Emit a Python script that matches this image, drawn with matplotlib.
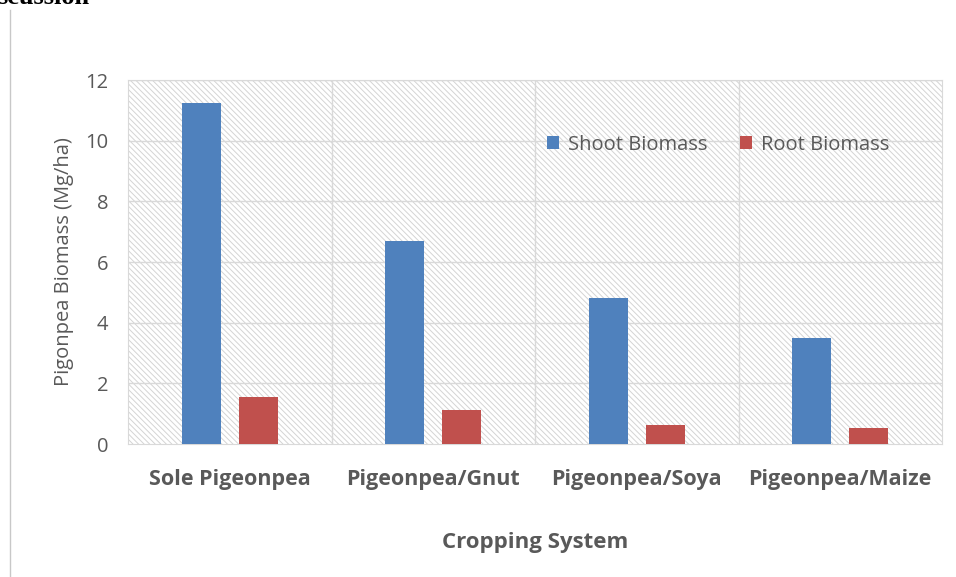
import numpy as np
import matplotlib.pyplot as plt
from matplotlib.patches import Rectangle

plt.rcParams['font.family'] = ['Open Sans', 'DejaVu Sans']
plt.rcParams['hatch.linewidth'] = 0.7
plt.rcParams['hatch.color'] = '#d4d4d4'

# datos
sistemas = ['Sole Pigeonpea', 'Pigeonpea/Gnut', 'Pigeonpea/Soya', 'Pigeonpea/Maize']
shoot = [11.25, 6.7, 4.8, 3.48]
root = [1.55, 1.12, 0.62, 0.53]

gris = '#595959'
azul = '#4F81BD'
rojo = '#C0504D'

fig = plt.figure(figsize=(9.56, 5.77), dpi=100)
ax = fig.add_axes([128/956, 1 - 444/577, (942-128)/956, (444-80)/577])

# fondo rayado
fondo = Rectangle((0, 0), 1, 1, transform=ax.transAxes, facecolor='white',
                  edgecolor='#d4d4d4', hatch='\\\\\\\\\\\\', linewidth=0, zorder=0)
ax.add_patch(fondo)

x = np.arange(len(sistemas))
ax.bar(x - 0.14, shoot, width=0.19, color=azul, label='Shoot Biomass', zorder=3)
ax.bar(x + 0.14, root, width=0.19, color=rojo, label='Root Biomass', zorder=3)

ax.set_xlim(-0.5, 3.5)
ax.set_ylim(0, 12)
ax.set_yticks(np.arange(0, 13, 2))

# rejilla
for yy in range(2, 13, 2):
    ax.axhline(yy, color='#d9d9d9', linewidth=1, zorder=1)
for xx in [0.5, 1.5, 2.5]:
    ax.axvline(xx, color='#d9d9d9', linewidth=1, zorder=1)

for s in ax.spines.values():
    s.set_color('#d9d9d9')

ax.set_xticks(x)
ax.set_xticklabels(sistemas, fontsize=15.5, fontweight='bold', color=gris)
ax.tick_params(axis='x', length=0, pad=18)
ax.tick_params(axis='y', length=0, pad=14, labelsize=14.5, labelcolor=gris)

ax.set_xlabel('Cropping System', fontsize=16, fontweight='bold', color=gris, labelpad=30)
ax.set_ylabel('Pigonpea Biomass (Mg/ha)', fontsize=14.5, color=gris, labelpad=8)

ax.legend(loc='upper right', bbox_to_anchor=(0.958, 0.90), ncol=2, frameon=False,
          fontsize=14.5, labelcolor=gris, handlelength=0.6, handleheight=0.6,
          handletextpad=0.45, columnspacing=1.6)

# texto cortado arriba y linea vertical
fig.text(-3/956, 1 - 4/577, 'scussion', fontsize=19, fontweight='bold',
         family='Liberation Serif', va='baseline', ha='left')
fig.add_artist(plt.Line2D([10/956, 10/956], [0, 1 - 10/577], color='#c8c8c8', linewidth=1))

fig.savefig('out.png', dpi=100)
